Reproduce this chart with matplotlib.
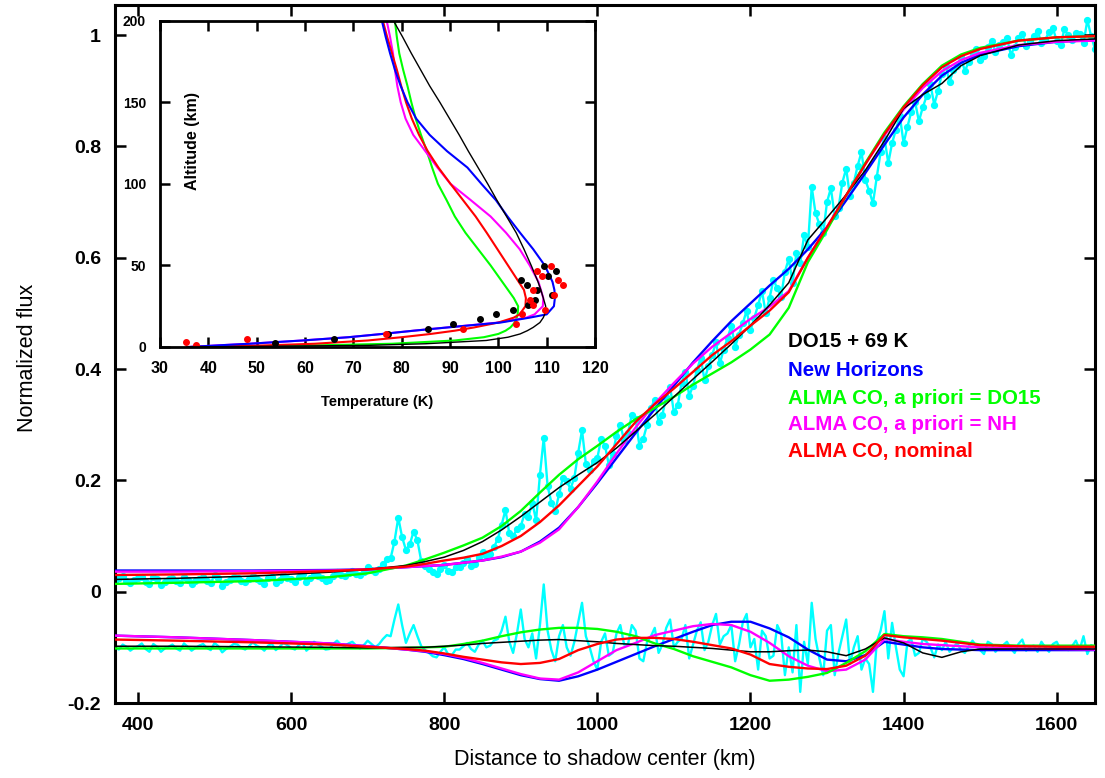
import numpy as np
import matplotlib
matplotlib.use("Agg")
import matplotlib.pyplot as plt

plt.rcParams['font.family'] = ['Liberation Sans', 'DejaVu Sans']

# ----- Dados da curva de luz (observação), passo de 5 km -----
dist_obs = np.arange(370, 1651, 5)
flux_obs = [
    0.020, 0.024, 0.028, 0.019, 0.015, 0.021, 0.024, 0.027, 0.018, 0.013,
    0.026, 0.022, 0.012, 0.018, 0.022, 0.025, 0.019, 0.016, 0.027, 0.021,
    0.014, 0.019, 0.023, 0.026, 0.020, 0.015, 0.030, 0.024, 0.011, 0.017,
    0.021, 0.026, 0.025, 0.019, 0.017, 0.023, 0.029, 0.022, 0.020, 0.014,
    0.024, 0.027, 0.016, 0.021, 0.030, 0.025, 0.022, 0.018, 0.027, 0.031,
    0.018, 0.024, 0.033, 0.028, 0.025, 0.020, 0.021, 0.029, 0.035, 0.030,
    0.028, 0.033, 0.038, 0.031, 0.030, 0.036, 0.044, 0.039, 0.035, 0.041,
    0.050, 0.058, 0.060, 0.090, 0.133, 0.098, 0.075, 0.085, 0.108, 0.092,
    0.055, 0.046, 0.040, 0.035, 0.032, 0.041, 0.048, 0.037, 0.036, 0.044,
    0.045, 0.052, 0.058, 0.047, 0.050, 0.062, 0.072, 0.064, 0.068, 0.080,
    0.095, 0.120, 0.147, 0.105, 0.100, 0.112, 0.118, 0.140, 0.135, 0.160,
    0.128, 0.210, 0.276, 0.190, 0.160, 0.145, 0.175, 0.205, 0.198, 0.185,
    0.205, 0.250, 0.290, 0.230, 0.218, 0.235, 0.240, 0.275, 0.262, 0.228,
    0.248, 0.280, 0.300, 0.272, 0.285, 0.318, 0.310, 0.262, 0.275, 0.300,
    0.330, 0.345, 0.305, 0.318, 0.350, 0.368, 0.322, 0.335, 0.375, 0.395,
    0.352, 0.370, 0.398, 0.420, 0.380, 0.405, 0.425, 0.448, 0.410, 0.435,
    0.455, 0.478, 0.440, 0.462, 0.482, 0.505, 0.470, 0.492, 0.515, 0.540,
    0.500, 0.528, 0.560, 0.545, 0.530, 0.575, 0.598, 0.555, 0.608, 0.590,
    0.640, 0.620, 0.727, 0.680, 0.660, 0.645, 0.700, 0.725, 0.675, 0.690,
    0.735, 0.760, 0.710, 0.735, 0.765, 0.790, 0.740, 0.720, 0.698, 0.745,
    0.790, 0.815, 0.770, 0.806, 0.830, 0.855, 0.806, 0.835, 0.862, 0.880,
    0.845, 0.870, 0.890, 0.912, 0.875, 0.900, 0.930, 0.945, 0.915, 0.938,
    0.945, 0.960, 0.935, 0.952, 0.968, 0.975, 0.955, 0.962, 0.978, 0.990,
    0.970, 0.982, 0.988, 0.995, 0.965, 0.978, 0.995, 1.002, 0.980, 0.990,
    0.998, 1.008, 0.985, 0.992, 1.005, 1.012, 0.990, 0.982, 1.010, 1.000,
    0.992, 1.004, 1.002, 0.985, 1.027, 0.998, 0.975,
]
resid_obs = [
    -0.100, -0.104, -0.095, -0.099, -0.106, -0.101, -0.098, -0.093, -0.103, -0.108,
    -0.094, -0.099, -0.108, -0.102, -0.099, -0.095, -0.102, -0.106, -0.093, -0.099,
    -0.106, -0.101, -0.097, -0.094, -0.101, -0.105, -0.092, -0.098, -0.109, -0.103,
    -0.099, -0.094, -0.095, -0.101, -0.104, -0.098, -0.091, -0.097, -0.100, -0.106,
    -0.097, -0.094, -0.105, -0.099, -0.092, -0.096, -0.101, -0.104, -0.096, -0.092,
    -0.106, -0.100, -0.090, -0.095, -0.099, -0.104, -0.103, -0.094, -0.088, -0.095,
    -0.098, -0.093, -0.090, -0.097, -0.102, -0.096, -0.088, -0.094, -0.100, -0.094,
    -0.085, -0.078, -0.080, -0.050, -0.023, -0.060, -0.092, -0.075, -0.060, -0.080,
    -0.098, -0.105, -0.110, -0.116, -0.118, -0.108, -0.100, -0.112, -0.114, -0.104,
    -0.104, -0.098, -0.092, -0.103, -0.108, -0.095, -0.088, -0.100, -0.097, -0.088,
    -0.085, -0.070, -0.045, -0.090, -0.110, -0.075, -0.032, -0.085, -0.100, -0.075,
    -0.120, -0.060, 0.013, -0.070, -0.105, -0.125, -0.080, -0.060, -0.100, -0.115,
    -0.090, -0.055, -0.020, -0.080, -0.100, -0.125, -0.140, -0.090, -0.075, -0.115,
    -0.110, -0.075, -0.060, -0.095, -0.095, -0.060, -0.070, -0.120, -0.125, -0.090,
    -0.080, -0.065, -0.110, -0.095, -0.065, -0.050, -0.100, -0.090, -0.085, -0.060,
    -0.120, -0.095, -0.070, -0.055, -0.105, -0.090, -0.060, -0.040, -0.095, -0.080,
    -0.075, -0.060, -0.125, -0.095, -0.055, -0.040, -0.100, -0.085, -0.140, -0.070,
    -0.080, -0.120, -0.115, -0.060, -0.075, -0.150, -0.100, -0.145, -0.060, -0.180,
    -0.090, -0.130, -0.020, -0.085, -0.120, -0.150, -0.070, -0.060, -0.150, -0.110,
    -0.080, -0.050, -0.130, -0.100, -0.080, -0.140, -0.120, -0.130, -0.180, -0.090,
    -0.070, -0.035, -0.120, -0.056, -0.100, -0.140, -0.152, -0.090, -0.085, -0.115,
    -0.110, -0.085, -0.090, -0.100, -0.118, -0.095, -0.105, -0.090, -0.108, -0.100,
    -0.092, -0.105, -0.110, -0.098, -0.088, -0.098, -0.105, -0.112, -0.090, -0.094,
    -0.108, -0.100, -0.096, -0.090, -0.102, -0.110, -0.094, -0.086, -0.106, -0.099,
    -0.097, -0.108, -0.090, -0.100, -0.108, -0.094, -0.090, -0.104, -0.100, -0.105,
    -0.098, -0.088, -0.104, -0.080, -0.112, -0.096, -0.100,
]

# ----- Modelos (curvas sintéticas) -----
dist_mod = [370, 450, 550, 650, 700, 750, 775, 800, 825, 850, 875, 900, 925, 950,
            975, 1000, 1025, 1050, 1075, 1100, 1125, 1150, 1175, 1200, 1225, 1250,
            1275, 1300, 1325, 1350, 1375, 1400, 1425, 1450, 1475, 1500, 1550, 1600,
            1650]

flux_do15 = [0.022, 0.024, 0.028, 0.035, 0.040, 0.047, 0.054, 0.062, 0.074, 0.090,
             0.111, 0.135, 0.161, 0.187, 0.210, 0.232, 0.258, 0.288, 0.318, 0.350,
             0.382, 0.413, 0.445, 0.478, 0.515, 0.555, 0.632, 0.672, 0.713, 0.757,
             0.810, 0.868, 0.893, 0.913, 0.945, 0.963, 0.982, 0.990, 0.993]
flux_nh = [0.038, 0.038, 0.038, 0.039, 0.040, 0.044, 0.046, 0.048, 0.052, 0.056,
           0.062, 0.072, 0.090, 0.115, 0.152, 0.195, 0.240, 0.285, 0.328, 0.370,
           0.412, 0.450, 0.486, 0.518, 0.550, 0.580, 0.615, 0.655, 0.703, 0.752,
           0.803, 0.852, 0.893, 0.927, 0.950, 0.965, 0.980, 0.988, 0.991]
flux_alma_do15 = [0.014, 0.016, 0.019, 0.026, 0.033, 0.047, 0.058, 0.070, 0.083, 0.097,
                  0.118, 0.145, 0.178, 0.210, 0.238, 0.262, 0.287, 0.310, 0.330, 0.350,
                  0.372, 0.392, 0.412, 0.435, 0.462, 0.510, 0.592, 0.650, 0.712, 0.770,
                  0.825, 0.872, 0.912, 0.945, 0.965, 0.977, 0.990, 0.996, 0.998]
flux_alma_nh = [0.036, 0.036, 0.037, 0.038, 0.040, 0.044, 0.046, 0.048, 0.052, 0.056,
                0.063, 0.072, 0.088, 0.112, 0.152, 0.198, 0.248, 0.295, 0.338, 0.375,
                0.410, 0.440, 0.465, 0.490, 0.512, 0.540, 0.600, 0.655, 0.712, 0.768,
                0.820, 0.866, 0.905, 0.935, 0.955, 0.968, 0.982, 0.988, 0.990]
flux_alma_nom = [0.030, 0.031, 0.033, 0.037, 0.040, 0.045, 0.050, 0.056, 0.061, 0.068,
                 0.082, 0.100, 0.125, 0.155, 0.190, 0.225, 0.265, 0.305, 0.337, 0.365,
                 0.395, 0.425, 0.450, 0.478, 0.505, 0.538, 0.600, 0.655, 0.712, 0.768,
                 0.822, 0.870, 0.910, 0.942, 0.962, 0.975, 0.990, 0.996, 0.998]

res_do15 = [-0.098, -0.098, -0.099, -0.100, -0.101, -0.100, -0.100, -0.098, -0.096, -0.093,
            -0.091, -0.089, -0.087, -0.086, -0.088, -0.090, -0.093, -0.095, -0.097, -0.098,
            -0.100, -0.102, -0.105, -0.108, -0.108, -0.106, -0.105, -0.108, -0.115, -0.103,
            -0.083, -0.092, -0.110, -0.118, -0.108, -0.103, -0.103, -0.103, -0.103]
res_nh = [-0.079, -0.082, -0.087, -0.093, -0.098, -0.104, -0.108, -0.114, -0.121, -0.130,
          -0.140, -0.150, -0.157, -0.160, -0.152, -0.140, -0.126, -0.112, -0.098, -0.085,
          -0.072, -0.060, -0.054, -0.054, -0.066, -0.082, -0.104, -0.122, -0.125, -0.114,
          -0.090, -0.095, -0.100, -0.103, -0.104, -0.105, -0.105, -0.105, -0.105]
res_alma_do15 = [-0.102, -0.102, -0.102, -0.102, -0.102, -0.101, -0.100, -0.099, -0.094, -0.088,
                 -0.080, -0.073, -0.068, -0.065, -0.065, -0.067, -0.072, -0.080, -0.093, -0.103,
                 -0.116, -0.126, -0.136, -0.150, -0.160, -0.158, -0.153, -0.146, -0.128, -0.107,
                 -0.076, -0.080, -0.082, -0.085, -0.090, -0.095, -0.097, -0.097, -0.097]
res_alma_nh = [-0.079, -0.082, -0.087, -0.093, -0.098, -0.104, -0.107, -0.112, -0.119, -0.128,
               -0.138, -0.148, -0.156, -0.158, -0.145, -0.125, -0.105, -0.092, -0.078, -0.070,
               -0.062, -0.058, -0.060, -0.072, -0.092, -0.116, -0.133, -0.143, -0.140, -0.122,
               -0.085, -0.090, -0.094, -0.096, -0.098, -0.100, -0.102, -0.103, -0.104]
res_alma_nom = [-0.086, -0.088, -0.091, -0.095, -0.099, -0.103, -0.106, -0.111, -0.117, -0.122,
                -0.127, -0.130, -0.128, -0.121, -0.105, -0.094, -0.086, -0.083, -0.083, -0.085,
                -0.090, -0.096, -0.102, -0.113, -0.130, -0.135, -0.138, -0.139, -0.133, -0.115,
                -0.078, -0.082, -0.085, -0.088, -0.092, -0.096, -0.098, -0.099, -0.099]

# ----- Perfis de temperatura (inserção) -----
alt = [0, 1, 2, 4, 6, 8, 10, 12, 15, 18, 20, 25, 30, 35, 40, 50, 60, 70, 80, 90,
       100, 110, 120, 130, 140, 150, 160, 170, 180, 190, 200]
temp_do15 = [35.5, 73, 85, 97.5, 102, 104.5, 106, 107.2, 108.6, 109.3, 109.6, 109.8,
             109.3, 108.8, 108.2, 106.8, 105.3, 103.7, 101.7, 99.7, 97.8, 95.8, 93.8,
             91.9, 89.9, 87.9, 85.8, 83.9, 82.0, 80.2, 78.3]
temp_nh = [35.9, 42, 48.5, 59.5, 69, 76, 82.5, 89.5, 100.5, 106.5, 110, 111.5, 111.7,
           111.6, 111.2, 109.6, 107.2, 104.5, 101.9, 99.5, 96.5, 93.6, 89.4, 85.8, 83.0,
           81.2, 79.8, 78.6, 77.6, 76.7, 75.9]
temp_alma_do15 = [36.2, 62, 78, 91, 97, 100, 101.5, 102.5, 103.4, 103.8, 104, 104.1,
                  103.2, 102, 100.8, 98.4, 95.8, 93.2, 91.0, 89.3, 87.5, 86.3, 85.2,
                  84.0, 82.9, 82.0, 81.2, 80.3, 79.5, 79.0, 78.6]
temp_alma_nh = [35.9, 42, 48.5, 59.5, 69, 76, 82.5, 89.5, 100, 105.8, 107.5, 109.2,
                109.3, 108.8, 108.3, 106.5, 104.4, 101.6, 98.4, 94.3, 90.1, 87.4, 84.9,
                82.4, 80.8, 79.8, 79.1, 78.6, 78.2, 77.6, 76.9]
temp_alma_nom = [36.2, 52, 62, 73, 80, 86, 91, 95, 100, 103.2, 104.4, 105.6, 105.7,
                 105.3, 104.2, 102.0, 99.8, 97.6, 95.3, 92.7, 90.1, 87.6, 85.4, 83.6,
                 82.1, 80.9, 79.9, 79.0, 78.0, 77.0, 76.1]

# pontos medidos (perfis de referência)
pts_do15_T = [53.8, 65.9, 77.2, 85.5, 90.7, 96.2, 99.5, 103.0, 106.2, 107.6, 111.2,
              107.9, 105.9, 104.7, 110.3, 111.9, 109.4]
pts_do15_z = [2.4, 5.1, 8.2, 11.2, 14.3, 17.1, 20.0, 22.9, 25.9, 29.0, 31.8, 34.7,
              37.8, 40.8, 43.7, 46.7, 49.6]
pts_nom_T = [35.4, 37.4, 47.9, 76.8, 92.6, 103.7, 104.8, 109.7, 107.1, 106.6, 111.5,
             107.1, 113.4, 112.3, 109.0, 108.1, 110.8]
pts_nom_z = [3.1, 1.4, 5.1, 8.2, 11.0, 14.1, 20.0, 22.9, 25.9, 29.0, 31.8, 34.7,
             37.8, 40.8, 43.7, 46.5, 49.6]

cores = {"do15": "#000000", "nh": "#0000ff", "alma_do15": "#00ff00",
         "alma_nh": "#ff00ff", "alma_nom": "#ff0000"}
nomes = [("do15", "DO15 + 69 K"), ("nh", "New Horizons"),
         ("alma_do15", "ALMA CO, a priori = DO15"),
         ("alma_nh", "ALMA CO, a priori = NH"), ("alma_nom", "ALMA CO, nominal")]

fig = plt.figure(figsize=(11.05, 7.78), dpi=100)
ax = fig.add_axes([115 / 1105, 1 - 703 / 778, 980 / 1105, 698 / 778])

ax.plot(dist_obs, flux_obs, color="#00ffff", lw=1.7, marker="o", ms=4.2, zorder=1)
ax.plot(dist_obs, resid_obs, color="#00ffff", lw=1.7, zorder=1)

fluxes = {"do15": flux_do15, "nh": flux_nh, "alma_do15": flux_alma_do15,
          "alma_nh": flux_alma_nh, "alma_nom": flux_alma_nom}
resids = {"do15": res_do15, "nh": res_nh, "alma_do15": res_alma_do15,
          "alma_nh": res_alma_nh, "alma_nom": res_alma_nom}
for chave in ["nh", "alma_nh", "alma_do15", "do15", "alma_nom"]:
    lw = 1.1 if chave == "do15" else 1.7
    ax.plot(dist_mod, fluxes[chave], color=cores[chave], lw=lw, zorder=3)
    ax.plot(dist_mod, resids[chave], color=cores[chave], lw=lw, zorder=3)

ax.set_xlim(370, 1650)
ax.set_ylim(-0.2, 1.054)
ax.set_xticks([400, 600, 800, 1000, 1200, 1400, 1600])
ax.set_yticks([-0.2, 0, 0.2, 0.4, 0.6, 0.8, 1])
ax.set_yticklabels(["-0.2", "0", "0.2", "0.4", "0.6", "0.8", "1"])
ax.tick_params(direction="in", length=8, width=1.8, top=True, right=True,
               labelsize=14, pad=10)
for lab in ax.get_xticklabels() + ax.get_yticklabels():
    lab.set_fontweight("bold")
for sp in ax.spines.values():
    sp.set_linewidth(2.2)

fig.text(0.5475, 1 - 760 / 778, "Distance to shadow center (km)", ha="center",
         va="center", fontsize=15.5, family=["Liberation Sans Narrow", "Liberation Sans"])
fig.text(28 / 1105, 1 - 358 / 778, "Normalized flux", ha="center", va="center",
         rotation=90, fontsize=15.5, family=["Liberation Sans Narrow", "Liberation Sans"])

# legenda em texto colorido
ys = [341.7, 370, 398, 425, 452]
for (chave, nome), yp in zip(nomes, ys):
    ax.text((788 - 115) / 980, (703 - yp) / 698, nome, color=cores[chave],
            fontsize=14.8, fontweight="bold", ha="left", va="center",
            transform=ax.transAxes)

# ----- Inserção: perfis de temperatura -----
axi = fig.add_axes([160 / 1105, 1 - 347 / 778, 435 / 1105, 326.3 / 778])
temps = {"do15": temp_do15, "nh": temp_nh, "alma_do15": temp_alma_do15,
         "alma_nh": temp_alma_nh, "alma_nom": temp_alma_nom}
for chave in ["alma_do15", "alma_nh", "alma_nom", "nh", "do15"]:
    lw = 1.0 if chave == "do15" else 1.5
    axi.plot(temps[chave], alt, color=cores[chave], lw=lw)
axi.plot(pts_do15_T, pts_do15_z, "o", color="black", ms=4)
axi.plot(pts_nom_T, pts_nom_z, "o", color="red", ms=4)

axi.set_xlim(30, 120)
axi.set_ylim(0, 200)
axi.set_xticks(np.arange(30, 121, 10))
axi.set_yticks([0, 50, 100, 150, 200])
axi.tick_params(direction="in", length=7, width=1.8, top=True, right=True, pad=10)
axi.tick_params(axis="x", labelsize=11.5)
axi.tick_params(axis="y", labelsize=10)
for lab in axi.get_xticklabels() + axi.get_yticklabels():
    lab.set_fontweight("bold")
for sp in axi.spines.values():
    sp.set_linewidth(2.0)
axi.set_xlabel("Temperature (K)", fontsize=10.5, fontweight="bold", labelpad=14)
axi.text(0.075, 0.63, "Altitude (km)", rotation=90, ha="center", va="center",
         fontsize=11.5, fontweight="bold", transform=axi.transAxes)

fig.savefig("out.png", dpi=100)
plt.close(fig)
